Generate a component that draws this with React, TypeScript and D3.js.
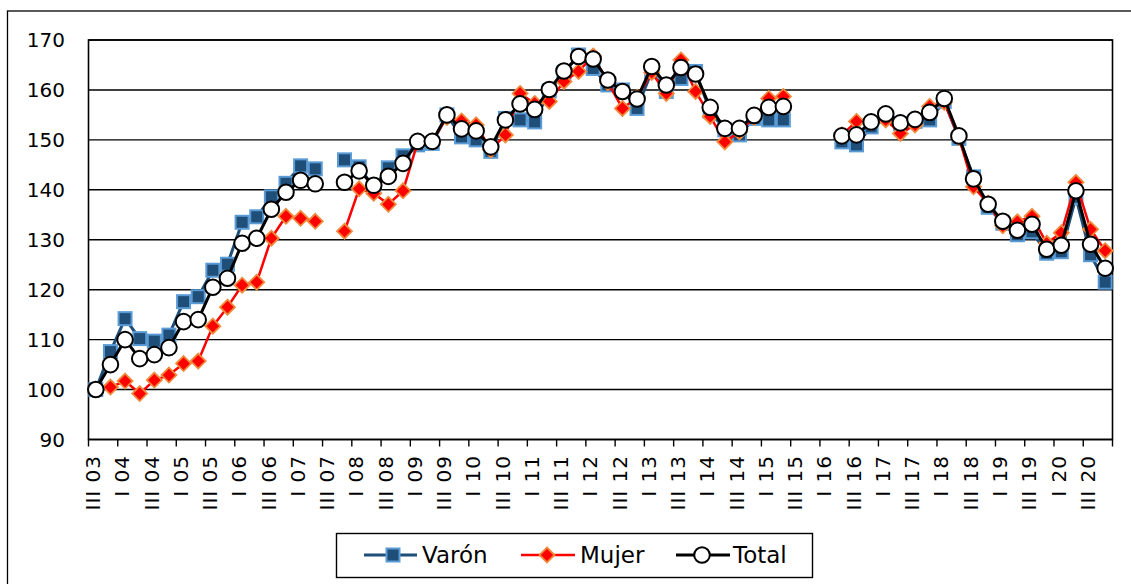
import React from "react";
import * as d3 from "d3";

const categories: string[] = [
  "III 03", "IV 03",
  "I 04", "II 04", "III 04", "IV 04",
  "I 05", "II 05", "III 05", "IV 05",
  "I 06", "II 06", "III 06", "IV 06",
  "I 07", "II 07", "III 07", "IV 07",
  "I 08", "II 08", "III 08", "IV 08",
  "I 09", "II 09", "III 09", "IV 09",
  "I 10", "II 10", "III 10", "IV 10",
  "I 11", "II 11", "III 11", "IV 11",
  "I 12", "II 12", "III 12", "IV 12",
  "I 13", "II 13", "III 13", "IV 13",
  "I 14", "II 14", "III 14", "IV 14",
  "I 15", "II 15", "III 15", "IV 15",
  "I 16", "II 16", "III 16", "IV 16",
  "I 17", "II 17", "III 17", "IV 17",
  "I 18", "II 18", "III 18", "IV 18",
  "I 19", "II 19", "III 19", "IV 19",
  "I 20", "II 20", "III 20", "IV 20",
];

const tickLabels: string[] = [
  "III 03", "I 04", "III 04", "I 05", "III 05", "I 06", "III 06", "I 07", "III 07",
  "I 08", "III 08", "I 09", "III 09", "I 10", "III 10", "I 11", "III 11", "I 12",
  "III 12", "I 13", "III 13", "I 14", "III 14", "I 15", "III 15", "I 16", "III 16",
  "I 17", "III 17", "I 18", "III 18", "I 19", "III 19", "I 20", "III 20",
];

const yTicks: number[] = [90, 100, 110, 120, 130, 140, 150, 160, 170];

const varon: (number | null)[] = [
  100, 107.6, 114.2, 110.2, 109.7, 110.9, 117.6, 118.6, 123.9, 125.1,
  133.5, 134.6, 138.6, 141.3, 144.8, 144.2, null, 146.0, 144.6, 140.5,
  144.4, 146.8, 149.0, 149.3, 155.0, 150.6, 150.0, 147.7, 154.3, 154.0,
  153.6, 159.8, 163.4, 167.0, 164.3, 161.0, 160.0, 156.3, 163.7, 159.7,
  162.3, 163.7, 155.7, 152.0, 151.0, 154.3, 154.0, 154.0, null, null,
  null, 149.6, 149.0, 152.6, 154.7, 153.3, 153.7, 154.0, 157.7, 150.3,
  142.6, 136.5, 133.3, 131.0, 131.6, 127.3, 127.6, 138.5, 127.0, 121.5,
];

const mujer: (number | null)[] = [
  100, 100.5, 101.7, 99.2, 101.9, 102.9, 105.2, 105.7, 112.7, 116.5,
  120.9, 121.5, 130.3, 134.7, 134.3, 133.7, null, 131.7, 140.2, 139.3,
  137.1, 139.8, 149.5, 149.7, 154.5, 153.8, 153.0, 148.0, 151.0, 159.3,
  157.3, 157.7, 161.7, 163.7, 166.8, 161.5, 156.3, 158.5, 163.5, 159.3,
  166.0, 159.7, 154.7, 149.6, 151.6, 154.5, 158.3, 158.7, null, null,
  null, 151.0, 153.7, 153.5, 154.0, 151.3, 153.0, 156.7, 157.5, 150.5,
  140.6, 137.3, 132.8, 133.6, 134.7, 129.3, 131.4, 141.5, 132.1, 127.8,
];

const total: (number | null)[] = [
  100, 105.0, 110.0, 106.2, 107.0, 108.4, 113.6, 114.0, 120.5, 122.3,
  129.3, 130.3, 136.1, 139.5, 141.9, 141.2, null, 141.5, 143.8, 140.9,
  142.7, 145.3, 149.7, 149.7, 155.0, 152.2, 151.8, 148.6, 154.0, 157.2,
  156.1, 160.1, 163.8, 166.7, 166.2, 162.0, 159.7, 158.2, 164.7, 161.0,
  164.5, 163.2, 156.5, 152.3, 152.3, 154.9, 156.5, 156.7, null, null,
  null, 150.8, 151.0, 153.6, 155.2, 153.4, 154.1, 155.5, 158.3, 150.8,
  142.2, 137.1, 133.7, 131.9, 133.1, 128.1, 128.9, 139.8, 129.1, 124.3,
];

const W = 1131;
const H = 584;
const PL = 88.5;
const PR = 1112.5;
const PT = 40;
const PB = 439.5;
const FONT = "'DejaVu Sans', 'Noto Sans', sans-serif";

const VARON_LINE = "#1F4E79";
const VARON_FILL = "#1F4E79";
const VARON_EDGE = "#5B9BD5";
const MUJER_LINE = "#FF0000";
const MUJER_EDGE = "#F08A3C";

export default function App() {
  const x = d3.scaleBand<string>().domain(categories).range([PL, PR]).paddingInner(0).paddingOuter(0);
  const y = d3.scaleLinear().domain([90, 170]).range([PB, PT]);
  const cx = (i: number) => (x(categories[i]) as number) + x.bandwidth() / 2;

  const line = d3
    .line<number | null>()
    .defined((d) => d !== null)
    .x((_, i) => cx(i))
    .y((d) => y(d as number));

  const sq = 6.5;
  const dm = 7.5;

  const tickPositions = categories
    .map((_, i) => i)
    .filter((i) => i % 2 === 0)
    .map((i) => x(categories[i]) as number)
    .concat([PR]);

  const legendY = 555;

  return (
    <svg
      width={W}
      height={H}
      style={{ position: "absolute", left: 0, top: 0, background: "#fff" }}
      fontFamily={FONT}
    >
      <rect x={0} y={0} width={W} height={H} fill="#fff" />
      <rect x={7.5} y={11} width={W + 20} height={H + 20} fill="none" stroke="#000" strokeWidth={1.3} />

      {/* gridlines */}
      {yTicks.map((t) => (
        <line key={"g" + t} x1={PL} x2={PR} y1={y(t)} y2={y(t)} stroke="#000" strokeWidth={1.4} />
      ))}
      <rect x={PL} y={PT} width={PR - PL} height={PB - PT} fill="none" stroke="#000" strokeWidth={1.6} />

      {/* y labels */}
      {yTicks.map((t) => (
        <text key={"yl" + t} x={65} y={y(t)} dy="0.36em" textAnchor="end" fontSize={20} fill="#000">
          {t}
        </text>
      ))}

      {/* x ticks */}
      {tickPositions.map((p, i) => (
        <line key={"xt" + i} x1={p} x2={p} y1={PB} y2={PB + 7} stroke="#000" strokeWidth={1.4} />
      ))}
      {/* x labels */}
      {tickLabels.map((lab, i) => {
        const xx = cx(i * 2) - 3;
        return (
          <text
            key={"xl" + lab}
            transform={`translate(${xx},${455}) rotate(-90)`}
            textAnchor="end"
            dy="0.36em"
            fontSize={20}
            letterSpacing={1}
            fill="#000"
          >
            {lab}
          </text>
        );
      })}

      {/* Varón */}
      <path d={line(varon) || ""} fill="none" stroke={VARON_LINE} strokeWidth={3} strokeLinejoin="round" />
      {varon.map((v, i) =>
        v === null ? null : (
          <rect
            key={"v" + i}
            x={cx(i) - sq}
            y={y(v) - sq}
            width={sq * 2}
            height={sq * 2}
            fill={VARON_FILL}
            stroke={VARON_EDGE}
            strokeWidth={2}
          />
        )
      )}

      {/* Mujer */}
      <path d={line(mujer) || ""} fill="none" stroke={MUJER_LINE} strokeWidth={2.5} strokeLinejoin="round" />
      {mujer.map((v, i) =>
        v === null ? null : (
          <path
            key={"m" + i}
            d={`M${cx(i)},${y(v) - dm}L${cx(i) + dm},${y(v)}L${cx(i)},${y(v) + dm}L${cx(i) - dm},${y(v)}Z`}
            fill={MUJER_LINE}
            stroke={MUJER_EDGE}
            strokeWidth={1.8}
          />
        )
      )}

      {/* Total */}
      <path d={line(total) || ""} fill="none" stroke="#000" strokeWidth={3} strokeLinejoin="round" />
      {total.map((v, i) =>
        v === null ? null : (
          <circle key={"t" + i} cx={cx(i)} cy={y(v)} r={7.8} fill="#fff" stroke="#000" strokeWidth={2} />
        )
      )}

      {/* legend */}
      <rect x={336.5} y={533.5} width={476} height={44} fill="#fff" stroke="#000" strokeWidth={1.4} />
      <line x1={364} x2={417} y1={legendY} y2={legendY} stroke={VARON_LINE} strokeWidth={3} />
      <rect x={393 - sq} y={legendY - sq} width={sq * 2} height={sq * 2} fill={VARON_FILL} stroke={VARON_EDGE} strokeWidth={2} />
      <text x={422} y={legendY} dy="0.36em" fontSize={23} fill="#000">Varón</text>

      <line x1={521} x2={575} y1={legendY} y2={legendY} stroke={MUJER_LINE} strokeWidth={2.5} />
      <path
        d={`M547,${legendY - dm}L${547 + dm},${legendY}L547,${legendY + dm}L${547 - dm},${legendY}Z`}
        fill={MUJER_LINE}
        stroke={MUJER_EDGE}
        strokeWidth={1.8}
      />
      <text x={580} y={legendY} dy="0.36em" fontSize={23} fill="#000">Mujer</text>

      <line x1={676} x2={730} y1={legendY} y2={legendY} stroke="#000" strokeWidth={3} />
      <circle cx={702} cy={legendY} r={7.8} fill="#fff" stroke="#000" strokeWidth={2} />
      <text x={733} y={legendY} dy="0.36em" fontSize={23} fill="#000">Total</text>
    </svg>
  );
}
